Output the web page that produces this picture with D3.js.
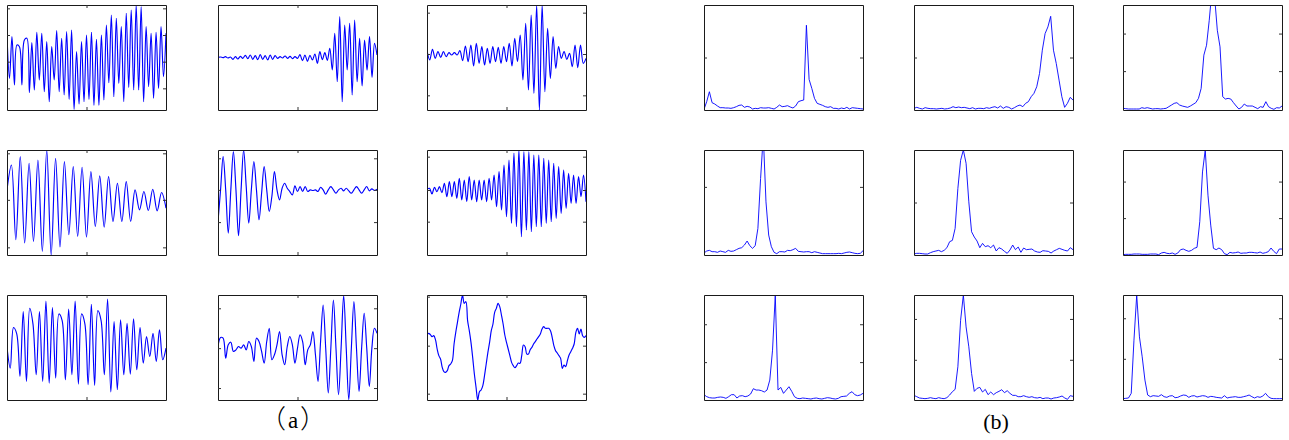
<!DOCTYPE html>
<html>
<head>
<meta charset="utf-8">
<script src="https://cdn.jsdelivr.net/npm/d3@7"></script>
<style>
body { margin: 0; background: #fff; }
.lbl { font-family: "Liberation Serif", "Times New Roman", "DejaVu Serif", serif; }
.cjk { font-family: "Noto Sans CJK SC", "Noto Sans CJK JP", sans-serif; font-weight: 300; }
</style>
</head>
<body>
<svg id="chart" width="1289" height="440"></svg>
<script>
// (a) time waveforms, row by row
const waveA11 = [80, -50, 75, -70, 50, 45, -70, 65, 70, -93, 57, -85, 88, -55, 85, -90, 60, -120, 45, -55, 93, -90, 70, -100, 90, -113, 95, -143, 30, -127, 60, -120, 80, -113, 88, -131, 67, -131, 80, -115, 110, -63, 140, -105, 130, -65, 105, -120, 145, -77, 155, -85, 170, -85, 165, -120, 105, -75, 85, -110, 88, -80, 105, -45, 85]
const waveA12 = [0, 1, -1, 2, -2, 1, -6, 2, -5, 3, -3, 6, -4, 7, -6, 5, -7, 8, -6, 5, -8, 7, -6, 5, -3, 2, -2, 4, -3, 3, -4, 2, -3, 8, -10, 7, -12, 6, -8, 10, -18, 17, -7, 14, -9, 27, -38, 72, -73, 122, -133, 97, -38, 102, -113, 112, -73, 57, -86, 52, -38, 62, -60, 42, 7]
const waveA13 = [12, -18, 14, -13, 7, -10, 7, -8, 4, -3, 4, -3, 10, -20, 24, -23, 27, -36, 32, -28, 22, -33, 17, -28, 22, -23, 20, -28, 22, -23, 32, -36, 47, -23, 57, -78, 92, -108, 117, -118, 147, -168, 147, -113, 77, -73, 52, -43, 22, -13, 7, -16, 2, -38, 27, -41, 27, -28, -13]
const waveA21 = [30, 105, -120, 130, -130, 110, -125, 120, -155, 150, -166, 125, -142, 115, -105, 100, -110, 98, -112, 85, -80, 72, -82, 70, -65, 50, -65, 55, -65, 30, -30, 25, -32, 32, -33, 22, -25]
const waveA22 = [-95, 0, 100, 0, -130, 0, 115, 0, -138, 0, 120, 10, -100, 0, 85, 0, -90, -10, 70, 0, -65, -20, 55, 0, -30, 5, 20, 5, -5, -15, 12, -5, 10, -5, 10, -5, 0, -2, 0, -5, 8, 0, -13, 0, 10, 0, -10, 0, 5, -3, 5, -3, -10, 0, 10, 0, -10, 0, 10, -3, 3, -2, 2]
const waveA23 = [2, 5, -12, 8, -5, 10, -8, 20, -20, 25, -20, 25, -25, 35, -30, 30, -35, 40, -30, 30, -35, 30, -30, 30, -35, 35, -30, 45, -50, 55, -60, 75, -80, 90, -100, 110, -110, 120, -140, 115, -120, 115, -125, 105, -110, 105, -110, 95, -100, 90, -95, 80, -85, 70, -70, 60, -55, 50, -40, 45, -40, 40, -20, 45, -35]
const waveA31 = [0, -63, 59, 40, -88, 107, -103, 117, 70, -83, 107, -103, 139, -108, 119, -93, 100, 80, -98, 115, -83, 139, -111, 100, 70, -113, 129, -115, 110, 80, -83, 145, -135, 77, -128, 82, -83, 72, -81, 85, -68, 59, -48, 32, -28, 42, -43, 52, -38, -3]
const waveA32 = [5, 32, 30, -30, 10, 18, -10, -5, 5, 0, 10, -5, 20, 5, -40, 30, 20, -10, -45, 20, 60, -35, -20, 10, 50, -20, -50, 5, 35, 10, -45, 0, 40, 20, -50, -5, 10, 50, -20, -100, 20, 130, 0, -135, 0, 145, 0, -140, 0, 158, 0, -155, 0, 140, 0, -130, 0, 105, 0, -115, 0, 60, 45]
const waveA33 = [32, 37, 33, 27, 30, 18, -10, -30, -40, -65, -78, -80, -75, -60, -55, -45, 5, 40, 70, 100, 125, 152, 127, 132, 75, 45, 10, -35, -85, -125, -163, -138, -133, -120, -90, -55, -20, 10, 45, 65, 100, 112, 127, 117, 92, 65, 32, 10, -10, -30, -50, -60, -66, -60, -52, -53, -30, 2, -3, -25, -25, -12, -5, 5, 12, 20, 27, 35, 50, 57, 52, 52, 52, 45, 25, 0, -15, -22, -30, -38, -68, -58, -63, -45, -28, -18, -8, 5, 40, 52, 35, 50, 30, 25, 30]

const waveLims = [[-145, 170], [-158, 157], [-168, 147], [-166, 150], [-196, 120], [-195, 120], [-159, 157], [-156, 160], [-163, 152]]
const waveTicks = [[-80, 0, 80, 160], [], [-124, 0, 124], [-143, 0, 140], [-97, 0, 95], [-95, 0, 100], [], [-120, 0, 120], [-144, 0, 147]]

// (b) spectra
const specB11 = [2, 25, 55, 22, 18, 12, 7, 7, 6, 6, 5, 7, 10, 14, 15, 8, 11, 9, 3, 5, 4, 7, 6, 6, 7, 5, 3, 8, 15, 10, 11, 13, 9, 6, 12, 25, 28, 30, 255, 92, 65, 35, 20, 17, 14, 10, 8, 10, 5, 5, 3, 6, 4, 8, 3, 7, 6, 5, 4, 3]
const specB12 = [5, 8, 5, 3, 7, 5, 4, 4, 3, 4, 5, 3, 4, 6, 10, 7, 9, 7, 8, 6, 4, 7, 3, 5, 5, 4, 7, 5, 8, 10, 6, 12, 5, 10, 8, 3, 7, 12, 15, 10, 20, 25, 40, 50, 70, 110, 180, 230, 250, 282, 180, 140, 90, 40, 8, 20, 38, 30]
const specB13 = [5, 4, 3, 3, 3, 3, 3, 7, 5, 7, 5, 3, 4, 4, 3, 4, 5, 10, 15, 20, 22, 15, 12, 10, 8, 12, 17, 22, 35, 65, 165, 195, 270, 360, 340, 240, 190, 40, 33, 35, 33, 22, 12, 3, 8, 18, 12, 12, 12, 8, 4, 10, 8, 25, 10, 5, 2, 7, 6, 12]
const specB21 = [6, 12, 14, 10, 10, 8, 12, 10, 8, 14, 11, 12, 16, 20, 22, 30, 42, 28, 20, 28, 80, 230, 360, 160, 60, 25, 8, 4, 10, 10, 9, 14, 13, 16, 20, 11, 10, 9, 10, 10, 7, 10, 8, 6, 4, 4, 4, 4, 4, 4, 5, 4, 6, 8, 9, 7, 5, 4, 5, 13]
const specB22 = [3, 5, 5, 4, 3, 3, 7, 10, 12, 14, 10, 14, 22, 40, 44, 80, 200, 285, 316, 276, 160, 70, 54, 42, 22, 35, 25, 28, 22, 30, 12, 22, 18, 11, 5, 15, 30, 16, 24, 8, 21, 16, 17, 18, 12, 9, 8, 13, 12, 11, 6, 12, 16, 20, 17, 14, 12, 22, 16]
const specB23 = [1, 2, 2, 2, 3, 3, 3, 2, 2, 2, 3, 3, 3, 1, 6, 8, 5, 4, 6, 2, 6, 16, 18, 14, 11, 14, 20, 23, 100, 250, 316, 180, 90, 20, 16, 21, 16, 4, 1, 8, 6, 7, 9, 5, 6, 6, 8, 8, 7, 6, 9, 5, 7, 10, 21, 11, 4, 18, 18]
const specB31 = [16, 10, 7, 6, 6, 8, 9, 8, 5, 10, 16, 16, 6, 12, 13, 10, 12, 18, 34, 30, 30, 28, 24, 30, 60, 150, 316, 30, 38, 20, 30, 40, 26, 10, 5, 4, 6, 5, 4, 3, 5, 6, 4, 3, 5, 7, 6, 4, 3, 5, 10, 11, 12, 20, 25, 16, 13, 15, 20]
const specB32 = [14, 10, 6, 5, 4, 5, 7, 5, 4, 7, 5, 4, 7, 15, 25, 32, 100, 240, 316, 220, 160, 80, 26, 35, 38, 24, 32, 16, 24, 16, 22, 26, 31, 22, 28, 20, 14, 14, 10, 10, 13, 10, 8, 10, 7, 6, 8, 4, 6, 6, 3, 6, 7, 9, 12, 6, 2, 13, 11]
const specB33 = [4, 5, 6, 20, 180, 316, 190, 130, 60, 15, 10, 13, 12, 11, 16, 10, 8, 12, 13, 7, 8, 12, 15, 14, 8, 12, 13, 9, 11, 13, 12, 8, 11, 10, 8, 7, 6, 13, 6, 8, 9, 10, 8, 8, 10, 12, 15, 10, 6, 10, 8, 12, 20, 10, 5, 4, 4, 4, 4]

const specTop = 316
const specTicks = [[158], [158], [117, 230], [205], [158], [111, 221], [114, 228], [121, 244], [124, 246]]

const waves = [waveA11, waveA12, waveA13, waveA21, waveA22, waveA23, waveA31, waveA32, waveA33]
const specs = [specB11, specB12, specB13, specB21, specB22, specB23, specB31, specB32, specB33]

const svg = d3.select("#chart")
const W = 159, H = 105
const leftCols = [7, 218, 427]
const rightCols = [704, 914, 1123]
const rows = [5, 150, 295]
var clipId = 0

function drawPanel(x0, y0, values, lim, yTicks, midTick, curve, lw) {
    const x = d3.scaleLinear().domain([0, values.length - 1]).range([x0, x0 + W])
    const y = d3.scaleLinear().domain(lim).range([y0 + H, y0])
    const g = svg.append("g")

    const id = "clip" + (clipId++)
    g.append("clipPath").attr("id", id)
        .append("rect").attr("x", x0).attr("y", y0).attr("width", W + 1).attr("height", H + 1)

    g.append("path")
        .datum(values)
        .attr("clip-path", `url(#${id})`)
        .attr("fill", "none")
        .attr("stroke", "#0000ff")
        .attr("stroke-width", lw)
        .attr("stroke-linejoin", "round")
        .attr("d", d3.line().x((d, i) => x(i)).y(d => y(d)).curve(curve))

    // box made of four axes, ticks pointing in, no labels
    const xt = midTick ? [(values.length - 1) / 2] : []
    const axes = [
        [d3.axisLeft(y).tickValues(yTicks), `translate(${x0},0)`],
        [d3.axisRight(y).tickValues(yTicks), `translate(${x0 + W},0)`],
        [d3.axisBottom(x).tickValues(xt), `translate(0,${y0 + H})`],
        [d3.axisTop(x).tickValues(xt), `translate(0,${y0})`]
    ]
    axes.forEach(([ax, tr]) => {
        const a = g.append("g").attr("transform", tr)
            .call(ax.tickSize(-3).tickSizeOuter(0).tickFormat(""))
        a.select(".domain").attr("stroke", "#1a1a1a")
        a.selectAll(".tick line").attr("stroke", "#333")
    })
}

rows.forEach((ry, r) => {
    leftCols.forEach((cx, c) => {
        const k = r * 3 + c
        drawPanel(cx, ry, waves[k], waveLims[k], waveTicks[k], true, d3.curveCatmullRom, 1.15)
    })
    rightCols.forEach((cx, c) => {
        const k = r * 3 + c
        drawPanel(cx, ry, specs[k], [0, specTop], specTicks[k], false, d3.curveLinear, 0.9)
    })
})

// group captions: (a) uses full-width brackets, spaced wide like the original
const capA = svg.append("text")
    .attr("x", 293).attr("y", 428)
    .attr("text-anchor", "middle")
capA.append("tspan").attr("class", "cjk").attr("font-size", 26).text("（")
capA.append("tspan").attr("class", "lbl").attr("font-size", 23).attr("dx", 2).text("a")
capA.append("tspan").attr("class", "cjk").attr("font-size", 26).attr("dx", 2).text("）")

svg.append("text")
    .attr("class", "lbl")
    .attr("x", 996).attr("y", 429)
    .attr("text-anchor", "middle")
    .attr("font-size", 22)
    .text("(b)")
</script>
</body>
</html>
